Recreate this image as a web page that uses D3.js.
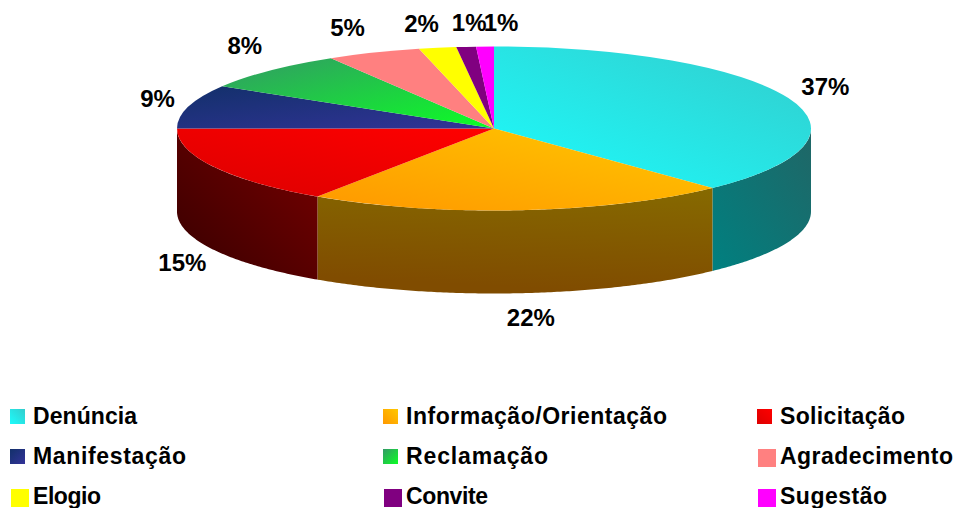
<!DOCTYPE html>
<html>
<head>
<meta charset="utf-8">
<script src="https://cdn.jsdelivr.net/npm/d3@7"></script>
<style>
html, body { margin: 0; padding: 0; background: #fff; }
svg { display: block; }
text { font-family: "Liberation Sans", Arial, sans-serif; font-weight: bold; font-size: 23px; fill: #000; }
text.pct { font-size: 24px; }
</style>
</head>
<body>
<svg id="chart"></svg>
<script>
// values (slice sizes), labels as printed
var categories = ["Denúncia", "Informação/Orientação", "Solicitação", "Manifestação", "Reclamação", "Agradecimento", "Elogio", "Convite", "Sugestão"]
var values = [37.9, 21.5, 15.6, 8.6, 7.8, 4.8, 1.9, 1.0, 0.9]
var percentLabels = ["37%", "22%", "15%", "9%", "8%", "5%", "2%", "1%", "1%"]

// top face colours, [from, to], flat slices have the same colour twice
var topColours = [["#1cfcfc", "#33cccc"], ["#ffc800", "#ff9800"], ["#ff0000", "#dc0000"], ["#333399", "#12306a"], ["#0cff24", "#339966"],
    ["#ff8080", "#ff8080"], ["#ffff00", "#ffff00"], ["#800080", "#800080"], ["#ff00ff", "#ff00ff"]]
var topDirs = [[0, 1, 1, 0], [1, 0, 0, 1], [1, 0, 0, 1], [1, 1, 0, 0], [1, 1, 0, 0], [0, 0, 1, 1], [0, 0, 1, 1], [0, 0, 1, 1], [0, 0, 1, 1]]
var wallColours = [["#008080", "#206666"], ["#866a00", "#804c00"], ["#7a0000", "#360000"]]
var wallDirs = [[0, 1, 1, 0], [1, 0, 0.8, 1], [1, 0, 0, 1]]

// label offset from the rim point at the middle of each slice
var labelNudge = [[37, -12], [10, 24], [-32, 12], [-31, -8], [-25, -25], [-26, -25], [-16, -24], [3, -24], [16, -24]]
// legend text widths as measured, the original is spaced a bit wider
var legendWidths = [104, 261, 125, 153, 142, 173, 68, 82, 107]

var width = 956, height = 508
var cx = 494, cy = 128.5, rx = 317, ry = 82, depth = 83

var svg = d3.select("#chart")
    .attr("width", width)
    .attr("height", height)
var defs = svg.append("defs")

function gradient(id, colours, dir) {
    var g = defs.append("linearGradient")
        .attr("id", id)
        .attr("x1", dir[0]).attr("y1", dir[1])
        .attr("x2", dir[2]).attr("y2", dir[3])
    g.append("stop").attr("offset", 0).attr("stop-color", colours[0])
    g.append("stop").attr("offset", 1).attr("stop-color", colours[1])
}
topColours.forEach(function (c, i) { gradient("top" + i, c, topDirs[i]) })
wallColours.forEach(function (c, i) { gradient("wall" + i, c, wallDirs[i]) })

var slices = d3.pie().sort(null)(values)

function rimX(a) { return cx + rx * Math.sin(a) }
function rimY(a) { return cy - ry * Math.cos(a) }

// walls, only the part of the rim that faces the viewer
var wall = d3.area()
    .x(rimX)
    .y0(rimY)
    .y1(function (a) { return rimY(a) + depth })

var front = slices.filter(function (d) {
    return d.startAngle < 1.5 * Math.PI && d.endAngle > 0.5 * Math.PI
})
svg.append("g").selectAll("path")
    .data(front)
    .enter()
    .append("path")
    .attr("d", function (d) {
        var a0 = Math.max(d.startAngle, 0.5 * Math.PI)
        var a1 = Math.min(d.endAngle, 1.5 * Math.PI)
        return wall(d3.range(a0, a1, 0.01).concat([a1]))
    })
    .attr("fill", function (d) { return "url(#wall" + d.index + ")" })

// top face, a circle squashed into the ellipse
var arc = d3.arc().innerRadius(0).outerRadius(rx)
svg.append("g")
    .attr("transform", "translate(" + cx + "," + cy + ") scale(1," + (ry / rx) + ")")
    .selectAll("path")
    .data(slices)
    .enter()
    .append("path")
    .attr("d", arc)
    .attr("fill", function (d) { return "url(#top" + d.index + ")" })

// percent labels
svg.append("g").selectAll("text")
    .data(slices)
    .enter()
    .append("text")
    .attr("class", "pct")
    .attr("text-anchor", "middle")
    .attr("dominant-baseline", "central")
    .attr("x", function (d) {
        return rimX((d.startAngle + d.endAngle) / 2) + labelNudge[d.index][0]
    })
    .attr("y", function (d) {
        var a = (d.startAngle + d.endAngle) / 2
        var isFront = a > 0.5 * Math.PI && a < 1.5 * Math.PI && d.index > 0
        return rimY(a) + (isFront ? depth : 0) + labelNudge[d.index][1]
    })
    .text(function (d) { return percentLabels[d.index] })

// legend, 3 columns by 3 rows
var colX = d3.scaleOrdinal().domain([0, 1, 2]).range([33, 406, 780])
var rowY = d3.scaleOrdinal().domain([0, 1, 2]).range([424, 464, 504])

var legend = svg.append("g").selectAll("g")
    .data(categories)
    .enter()
    .append("g")
    .attr("transform", function (d, i) {
        return "translate(" + colX(i % 3) + "," + rowY(Math.floor(i / 3)) + ")"
    })

legend.append("rect")
    .attr("x", function (d, i) { return i < 5 ? -23 : -22 })
    .attr("y", -15)
    .attr("width", function (d, i) { return i < 5 ? 15 : 18 })
    .attr("height", function (d, i) { return i < 5 ? 15 : 18 })
    .attr("fill", function (d, i) { return "url(#top" + i + ")" })

legend.append("text")
    .attr("textLength", function (d, i) { return legendWidths[i] })
    .attr("lengthAdjust", "spacing")
    .text(function (d) { return d })
</script>
</body>
</html>
